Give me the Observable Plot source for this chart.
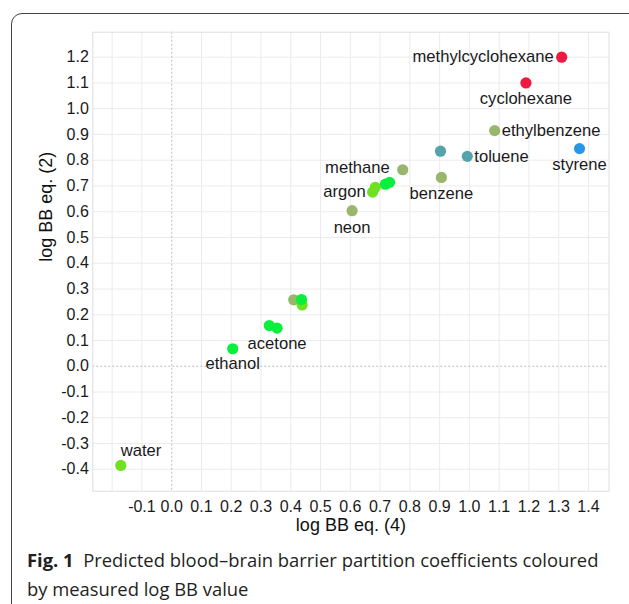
<!DOCTYPE html>
<html>
<head>
<meta charset="utf-8">
<script src="https://cdn.jsdelivr.net/npm/d3@7"></script>
<script src="https://cdn.jsdelivr.net/npm/@observablehq/plot@0.6"></script>
<style>
  html, body { margin: 0; padding: 0; width: 629px; height: 604px; overflow: hidden; background: #fff; }
  #frame { position: absolute; left: 11px; top: 13px; width: 660px; height: 610px; border: 1.5px solid #444; border-radius: 11px; box-sizing: border-box; }
  #chart { position: absolute; left: 0; top: 0; }
  #caption { position: absolute; left: 27px; top: 546px; width: 600px; font-family: "Open Sans", sans-serif; font-size: 18.4px; line-height: 28.5px; color: #231f20; white-space: nowrap; }
  #caption b { font-weight: 700; }
</style>
</head>
<body>
<div id="frame"></div>
<div id="chart"></div>
<div id="caption"><b>Fig. 1</b>&nbsp; Predicted blood–brain barrier partition coefficients coloured<br>by measured log BB value</div>
<script>
// ---- data ----
const names = ["methylcyclohexane","cyclohexane","ethylbenzene","styrene","toluene","","methane","benzene",
               "neon","","argon","","","","","","","acetone","ethanol","water"];
const logBB4 = [1.31, 1.19, 1.085, 1.37, 0.993, 0.903, 0.776, 0.906,
                0.606, 0.410, 0.675, 0.684, 0.438, 0.718, 0.732, 0.436, 0.328, 0.354, 0.205, -0.171];
const logBB2 = [1.20, 1.10, 0.915, 0.845, 0.815, 0.835, 0.763, 0.733,
                0.604, 0.258, 0.676, 0.695, 0.238, 0.707, 0.714, 0.259, 0.158, 0.148, 0.068, -0.385];
const measuredGroup = ["G1","G1","G4","G2","G3","G3","G4","G4",
                       "G4","G4","G5","G5","G5","G6","G6","G6","G6","G6","G6","G5"];
const xTicks = [-0.1,0.0,0.1,0.2,0.3,0.4,0.5,0.6,0.7,0.8,0.9,1.0,1.1,1.2,1.3,1.4];
const xGrid = [-0.2, ...xTicks];
const yTicks = [-0.4,-0.3,-0.2,-0.1,0.0,0.1,0.2,0.3,0.4,0.5,0.6,0.7,0.8,0.9,1.0,1.1,1.2];
const xTitle = "log BB eq. (4)";
const yTitle = "log BB eq. (2)";

// ---- styling ----
const groupDomain = ["G1","G2","G3","G4","G5","G6"];
const groupColors = ["#ef1a40","#2a97e6","#55a3a8","#98b76c","#6fe120","#08ef3c"];
const labelPos = {
  methylcyclohexane: {dx: -8, dy: 0, anchor: "end"},
  cyclohexane: {dx: 0, dy: 16, anchor: "middle"},
  ethylbenzene: {dx: 7, dy: 0, anchor: "start"},
  styrene: {dx: 0, dy: 16, anchor: "middle"},
  toluene: {dx: 7, dy: 0, anchor: "start"},
  methane: {dx: -13, dy: -2, anchor: "end"},
  benzene: {dx: 0, dy: 16, anchor: "middle"},
  argon: {dx: -7, dy: 0, anchor: "end"},
  neon: {dx: 0, dy: 17, anchor: "middle"},
  acetone: {dx: 0, dy: 16, anchor: "middle"},
  ethanol: {dx: 0, dy: 15, anchor: "middle"},
  water: {dx: 0, dy: -15, anchor: "start"}
};

const data = names.map((n, i) => ({name: n, x: logBB4[i], y: logBB2[i], g: measuredGroup[i]}));
const labelled = data.filter(d => d.name);

const fmt = d => (Math.abs(d) < 1e-9 ? 0 : d).toFixed(1);

const labelMarks = labelled.map(d => {
  const p = labelPos[d.name];
  return Plot.text([d], {x: "x", y: "y", text: "name", dx: p.dx, dy: p.dy, textAnchor: p.anchor,
                         fill: "#1a1a1a", fontSize: 16.6});
});

const chart = Plot.plot({
  width: 629,
  height: 545,
  marginLeft: 92.3,
  marginRight: 20.5,
  marginTop: 31.7,
  marginBottom: 54.3,
  style: {fontFamily: "'Liberation Sans', Arial, sans-serif", fontSize: "16px", color: "#1a1a1a", background: "transparent"},
  x: {domain: [-0.265, 1.469], ticks: xTicks, tickFormat: fmt, tickSize: 0, tickPadding: 9, label: null},
  y: {domain: [-0.485, 1.297], ticks: yTicks, tickFormat: fmt, tickSize: 0, tickPadding: 4, label: null},
  color: {type: "ordinal", domain: groupDomain, range: groupColors},
  marks: [
    Plot.ruleX(xGrid.filter(v => Math.abs(v) > 1e-9), {stroke: "#ebebeb", strokeWidth: 1}),
    Plot.ruleY(yTicks.filter(v => Math.abs(v) > 1e-9), {stroke: "#ebebeb", strokeWidth: 1}),
    Plot.ruleX([0], {stroke: "#bdbdbd", strokeDasharray: "2,2", strokeWidth: 1}),
    Plot.ruleY([0], {stroke: "#bdbdbd", strokeDasharray: "2,2", strokeWidth: 1}),
    Plot.frame({stroke: "#dedede"}),
    Plot.dot(data, {x: "x", y: "y", fill: "g", r: 5.6, stroke: null}),
    ...labelMarks,
    Plot.text([xTitle], {frameAnchor: "bottom", text: d => d, dy: 40, fontSize: 18, fill: "#111"}),
    Plot.text([yTitle], {frameAnchor: "left", text: d => d, dx: -47, rotate: -90, fontSize: 18, fill: "#111"})
  ]
});
document.getElementById("chart").appendChild(chart);
</script>
</body>
</html>
